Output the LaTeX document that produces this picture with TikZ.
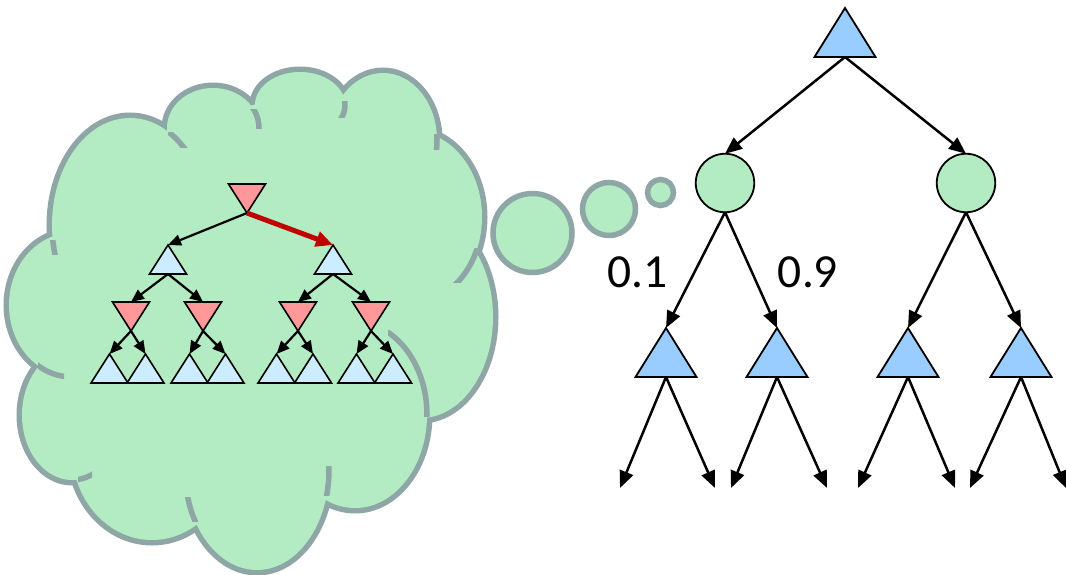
\documentclass[tikz,border=0pt]{standalone}
\usepackage{fontspec}
\setmainfont{Carlito}
\usetikzlibrary{shapes.geometric,arrows.meta}
\definecolor{cloudfill}{RGB}{179,236,194}
\definecolor{cloudline}{RGB}{142,166,166}
\definecolor{maxblue}{RGB}{153,204,255}
\definecolor{paleblue}{RGB}{204,236,255}
\definecolor{minred}{RGB}{255,153,153}
\definecolor{movered}{RGB}{192,0,0}
% bumps of the thought cloud
\newcommand{\cloudbumps}{(72,305) ellipse [x radius=63, y radius=72]
  (130,225) ellipse [x radius=78, y radius=107]
  (213,128) ellipse [x radius=46, y radius=40]
  (300,105) ellipse [x radius=45, y radius=33]
  (383,140) ellipse [x radius=54, y radius=67]
  (412,217) ellipse [x radius=70, y radius=86]
  (421,317) ellipse [x radius=72, y radius=101]
  (355,415) ellipse [x radius=72, y radius=93]
  (257,470) ellipse [x radius=72, y radius=100]
  (152,450) ellipse [x radius=80, y radius=90]
  (72,415) ellipse [x radius=50, y radius=65]}

\begin{document}
\begin{tikzpicture}[x=1pt,y=-1pt,
  maxbig/.style={isosceles triangle, isosceles triangle stretches, shape border rotate=90,
    minimum width=61pt, minimum height=49pt, inner sep=0pt, outer sep=0pt,
    draw, line width=1.8pt, fill=maxblue},
  chance/.style={circle, draw, line width=1.8pt, fill=cloudfill, minimum size=58.5pt,
    inner sep=0pt, outer sep=0pt},
  maxsmall/.style={isosceles triangle, isosceles triangle stretches, shape border rotate=90,
    minimum width=37pt, minimum height=29pt, inner sep=0pt, outer sep=0pt,
    draw, line width=1.6pt, fill=paleblue},
  minsmall/.style={maxsmall, shape border rotate=270, fill=minred},
  bigarrow/.style={-{Triangle[length=17pt,width=14pt]}, line width=2.5pt},
  smallarrow/.style={-{Triangle[length=13pt,width=11pt]}, line width=2.2pt},
  movearrow/.style={-{Triangle[length=17pt,width=15pt]}, line width=5pt, movered},
  crease/.style={draw=cloudline, line width=5.5pt},
  bubble/.style={draw=cloudline, line width=5.5pt, fill=cloudfill},
  problabel/.style={font=\fontsize{47.5}{57}\selectfont}
]
\useasboundingbox (0,0) rectangle (1066,575);

% Cloud
\draw[cloudline, line width=11pt] \cloudbumps;
\fill[cloudfill] \cloudbumps (260,320) ellipse [x radius=180, y radius=160]
  (300,200) ellipse [x radius=150, y radius=100];
\begin{scope} \clip (168,133) rectangle (192,148); \draw[crease] (130,225) ellipse [x radius=78, y radius=107]; \end{scope}
\begin{scope} \clip (248,110) rectangle (268,129); \draw[crease] (213,128) ellipse [x radius=46, y radius=40]; \end{scope}
\begin{scope} \clip (330,102) rectangle (350,118); \draw[crease] (300,105) ellipse [x radius=45, y radius=33]; \end{scope}
\begin{scope} \clip (425,135) rectangle (445,150); \draw[crease] (383,140) ellipse [x radius=54, y radius=67]; \end{scope}
\begin{scope} \clip (450,248) rectangle (485,282); \draw[crease] (412,217) ellipse [x radius=70, y radius=86]; \end{scope}
\begin{scope} \clip (388,330) rectangle (432,416); \draw[crease] (355,415) ellipse [x radius=72, y radius=93]; \end{scope}
\begin{scope} \clip (318,466) rectangle (336,495); \draw[crease] (257,470) ellipse [x radius=72, y radius=100]; \end{scope}
\begin{scope} \clip (180,497) rectangle (198,521); \draw[crease] (257,470) ellipse [x radius=72, y radius=100]; \end{scope}
\begin{scope} \clip (78,466) rectangle (92,482); \draw[crease] (72,415) ellipse [x radius=50, y radius=65]; \end{scope}
\begin{scope} \clip (38,360) rectangle (64,382); \draw[crease] (72,305) ellipse [x radius=63, y radius=72]; \end{scope}
\begin{scope} \clip (45,240) rectangle (65,254); \draw[crease] (130,225) ellipse [x radius=78, y radius=107]; \end{scope}

% Thought bubbles
\draw[bubble] (532.5,233) circle [radius=39.5];
\draw[bubble] (609,209) circle [radius=26.5];
\draw[bubble] (660.5,192.5) circle [radius=13];

% Imagined tree inside the cloud
\node[minsmall, anchor=apex] (croot) at (247,213) {};
\node[maxsmall, anchor=apex] (cmaxL) at (168,245) {};
\node[maxsmall, anchor=apex] (cmaxR) at (333,245) {};
\node[minsmall, anchor=apex] (cmin1) at (131,331) {};
\node[minsmall, anchor=apex] (cmin2) at (203,331) {};
\node[minsmall, anchor=apex] (cmin3) at (298,331) {};
\node[minsmall, anchor=apex] (cmin4) at (371,331) {};
\node[maxsmall, anchor=apex] (cleaf1) at (109.5,354) {};
\node[maxsmall, anchor=apex] (cleaf2) at (145.5,354) {};
\node[maxsmall, anchor=apex] (cleaf3) at (189.5,354) {};
\node[maxsmall, anchor=apex] (cleaf4) at (225.5,354) {};
\node[maxsmall, anchor=apex] (cleaf5) at (276.5,354) {};
\node[maxsmall, anchor=apex] (cleaf6) at (313,354) {};
\node[maxsmall, anchor=apex] (cleaf7) at (356.5,354) {};
\node[maxsmall, anchor=apex] (cleaf8) at (393,354) {};
\draw[smallarrow] (croot.apex) -- (cmaxL.apex);
\draw[movearrow] (croot.apex) -- (cmaxR.apex);
\draw[smallarrow] (cmaxL.lower side) -- (cmin1.lower side);
\draw[smallarrow] (cmaxL.lower side) -- (cmin2.lower side);
\draw[smallarrow] (cmaxR.lower side) -- (cmin3.lower side);
\draw[smallarrow] (cmaxR.lower side) -- (cmin4.lower side);
\draw[smallarrow] (cmin1.apex) -- (cleaf1.apex);
\draw[smallarrow] (cmin1.apex) -- (cleaf2.apex);
\draw[smallarrow] (cmin2.apex) -- (cleaf3.apex);
\draw[smallarrow] (cmin2.apex) -- (cleaf4.apex);
\draw[smallarrow] (cmin3.apex) -- (cleaf5.apex);
\draw[smallarrow] (cmin3.apex) -- (cleaf6.apex);
\draw[smallarrow] (cmin4.apex) -- (cleaf7.apex);
\draw[smallarrow] (cmin4.apex) -- (cleaf8.apex);

% Real tree with chance nodes
\node[maxbig, anchor=apex] (root) at (845,8) {};
\node[chance] (chL) at (725,183) {};
\node[chance] (chR) at (966,183) {};
\node[maxbig, anchor=apex] (maxA) at (666,328) {};
\node[maxbig, anchor=apex] (maxB) at (777,328) {};
\node[maxbig, anchor=apex] (maxC) at (908,328) {};
\node[maxbig, anchor=apex] (maxD) at (1021,328) {};
\coordinate (endA1) at (620,488);
\coordinate (endA2) at (715,488);
\coordinate (endB1) at (731,488);
\coordinate (endB2) at (827,488);
\coordinate (endC1) at (858,488);
\coordinate (endC2) at (955,488);
\coordinate (endD1) at (970,488);
\coordinate (endD2) at (1066,488);
\draw[bigarrow] (root.lower side) -- (chL.north);
\draw[bigarrow] (root.lower side) -- (chR.north);
\draw[bigarrow] (chL.south) -- (maxA.apex);
\draw[bigarrow] (chL.south) -- (maxB.apex);
\draw[bigarrow] (chR.south) -- (maxC.apex);
\draw[bigarrow] (chR.south) -- (maxD.apex);
\draw[bigarrow] (maxA.lower side) -- (endA1);
\draw[bigarrow] (maxA.lower side) -- (endA2);
\draw[bigarrow] (maxB.lower side) -- (endB1);
\draw[bigarrow] (maxB.lower side) -- (endB2);
\draw[bigarrow] (maxC.lower side) -- (endC1);
\draw[bigarrow] (maxC.lower side) -- (endC2);
\draw[bigarrow] (maxD.lower side) -- (endD1);
\draw[bigarrow] (maxD.lower side) -- (endD2);
\node[problabel] (probL) at (637.5,272) {0.1};
\node[problabel] (probR) at (808,272) {0.9};
\end{tikzpicture}
\end{document}
